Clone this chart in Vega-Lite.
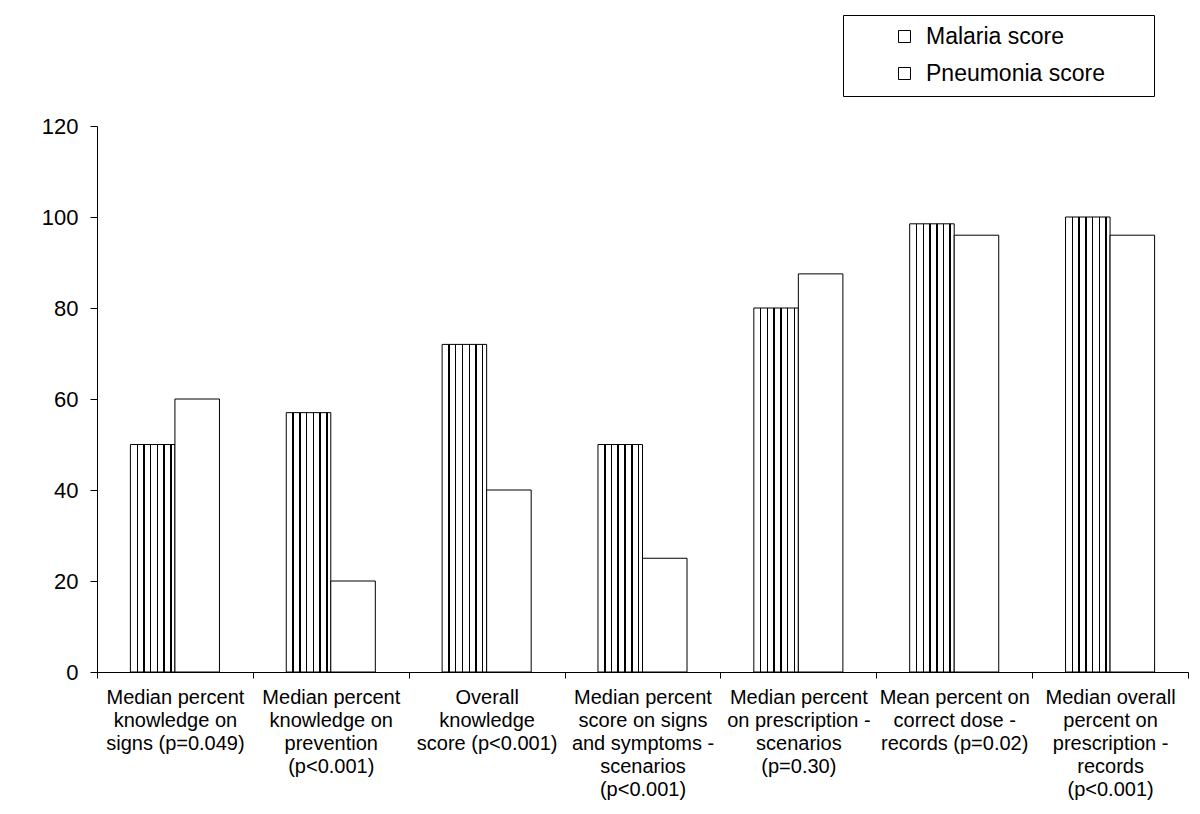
{
  "$schema": "https://vega.github.io/schema/vega-lite/v6.json",
  "autosize": {"type": "none"},
  "padding": {"left": 97, "top": 126, "right": 12, "bottom": 142},
  "width": 1091,
  "height": 546,
  "background": "white",
  "config": {
    "font": "Liberation Sans",
    "view": {"stroke": null},
    "axis": {"domainColor": "black", "tickColor": "black", "labelColor": "black", "grid": false, "labelFont": "Liberation Sans"},
    "legend": {"labelFont": "Liberation Sans"}
  },
  "data": {
    "values": [
      {"measure": "Median percent|knowledge on|signs (p=0.049)", "score": "Malaria score", "value": 50},
      {"measure": "Median percent|knowledge on|signs (p=0.049)", "score": "Pneumonia score", "value": 60},
      {"measure": "Median percent|knowledge on|prevention|(p<0.001)", "score": "Malaria score", "value": 57},
      {"measure": "Median percent|knowledge on|prevention|(p<0.001)", "score": "Pneumonia score", "value": 20},
      {"measure": "Overall|knowledge|score (p<0.001)", "score": "Malaria score", "value": 72},
      {"measure": "Overall|knowledge|score (p<0.001)", "score": "Pneumonia score", "value": 40},
      {"measure": "Median percent|score on signs|and symptoms -|scenarios|(p<0.001)", "score": "Malaria score", "value": 50},
      {"measure": "Median percent|score on signs|and symptoms -|scenarios|(p<0.001)", "score": "Pneumonia score", "value": 25},
      {"measure": "Median percent|on prescription -|scenarios|(p=0.30)", "score": "Malaria score", "value": 80},
      {"measure": "Median percent|on prescription -|scenarios|(p=0.30)", "score": "Pneumonia score", "value": 87.5},
      {"measure": "Mean percent on|correct dose -|records (p=0.02)", "score": "Malaria score", "value": 98.5},
      {"measure": "Mean percent on|correct dose -|records (p=0.02)", "score": "Pneumonia score", "value": 96},
      {"measure": "Median overall|percent on|prescription -|records|(p<0.001)", "score": "Malaria score", "value": 100},
      {"measure": "Median overall|percent on|prescription -|records|(p<0.001)", "score": "Pneumonia score", "value": 96}
    ]
  },
  "mark": {"type": "bar", "strokeWidth": 1},
  "encoding": {
    "x": {
      "field": "measure", "type": "nominal", "sort": null,
      "scale": {"paddingInner": 0, "paddingOuter": 0},
      "axis": {
        "title": null, "labelAngle": 0, "labelFontSize": 20, "labelLineHeight": 23,
        "labelExpr": "split(datum.label, '|')", "labelBaseline": "top", "labelPadding": 9,
        "labelLimit": 300, "tickBand": "extent", "tickSize": 6, "labelColor": "black"
      }
    },
    "xOffset": {"field": "score", "type": "nominal", "scale": {"paddingInner": 0, "paddingOuter": 0.75}},
    "y": {
      "field": "value", "type": "quantitative",
      "scale": {"domain": [0, 120], "nice": false},
      "axis": {"title": null, "values": [0, 20, 40, 60, 80, 100, 120], "labelFontSize": 22, "tickSize": 7, "labelPadding": 12}
    },
    "fill": {
      "condition": {
        "test": "datum.score === 'Malaria score'",
        "value": {"gradient": "linear", "x1": 0, "y1": 0, "x2": 1, "y2": 0, "stops": [
          {"offset": 0, "color": "white"},
          {"offset": 0.138, "color": "white"}, {"offset": 0.138, "color": "black"}, {"offset": 0.172, "color": "black"}, {"offset": 0.172, "color": "white"},
          {"offset": 0.288, "color": "white"}, {"offset": 0.288, "color": "black"}, {"offset": 0.322, "color": "black"}, {"offset": 0.322, "color": "white"},
          {"offset": 0.438, "color": "white"}, {"offset": 0.438, "color": "black"}, {"offset": 0.472, "color": "black"}, {"offset": 0.472, "color": "white"},
          {"offset": 0.593, "color": "white"}, {"offset": 0.593, "color": "black"}, {"offset": 0.627, "color": "black"}, {"offset": 0.627, "color": "white"},
          {"offset": 0.743, "color": "white"}, {"offset": 0.743, "color": "black"}, {"offset": 0.777, "color": "black"}, {"offset": 0.777, "color": "white"},
          {"offset": 0.893, "color": "white"}, {"offset": 0.893, "color": "black"}, {"offset": 0.927, "color": "black"}, {"offset": 0.927, "color": "white"},
          {"offset": 1, "color": "white"}
        ]}
      },
      "value": "white"
    },
    "stroke": {
      "field": "score", "type": "nominal",
      "scale": {"domain": ["Malaria score", "Pneumonia score"], "range": ["black", "black"]},
      "legend": {
        "title": null,
        "orient": "none",
        "legendX": 746,
        "legendY": -111,
        "direction": "vertical",
        "strokeColor": "black",
        "fillColor": "white",
        "padding": 10,
        "symbolOffset": 40,
        "symbolType": "square",
        "symbolSize": 144,
        "symbolStrokeWidth": 1,
        "labelFontSize": 23,
        "labelColor": "black",
        "labelOffset": 10,
        "labelLimit": 500,
        "rowPadding": 13,
        "labelExpr": "datum.label + '      \u200b'",
        "encode": {
          "symbols": {
            "fill": {
              "condition": {
                "test": "datum.value === 'Malaria score'",
                "value": {"gradient": "linear", "x1": 0, "y1": 0, "x2": 1, "y2": 0, "stops": [
                  {"offset": 0, "color": "white"},
                  {"offset": 0.27, "color": "white"}, {"offset": 0.27, "color": "black"}, {"offset": 0.4, "color": "black"}, {"offset": 0.4, "color": "white"},
                  {"offset": 0.6, "color": "white"}, {"offset": 0.6, "color": "black"}, {"offset": 0.73, "color": "black"}, {"offset": 0.73, "color": "white"},
                  {"offset": 1, "color": "white"}
                ]}
              },
              "value": "#f2f2f2"
            }
          }
        }
      }
    }
  }
}
